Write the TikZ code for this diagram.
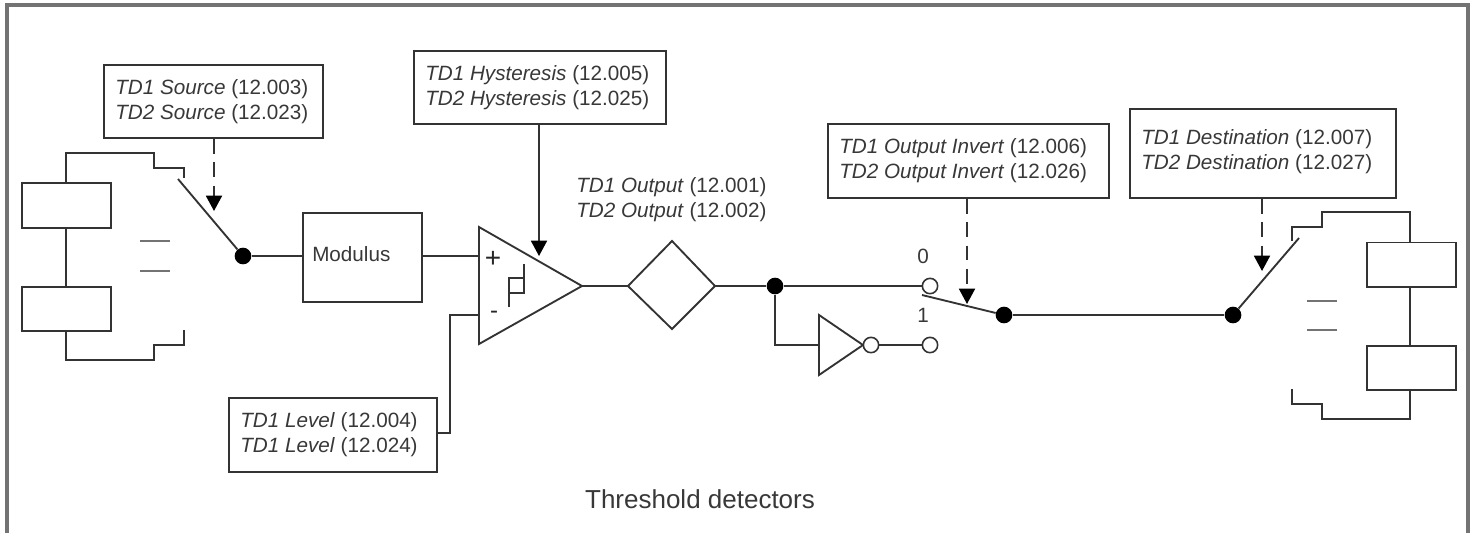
\documentclass[tikz,border=0pt]{standalone}
\usepackage{fontspec}
\setmainfont{Liberation Sans}
\usetikzlibrary{arrows.meta}
\definecolor{wire}{gray}{0.2}
\newcommand{\pl}[2]{\textit{#1} (#2)}
\tikzset{
  x=0.75pt,y=-0.75pt,
  wireline/.style={draw=wire,line width=1.4pt},
  plainbox/.style={draw=wire,line width=1.4pt,fill=white,inner sep=0pt,anchor=north west},
  blackdot/.style={circle,fill=black,minimum size=12.5pt,inner sep=0pt},
  opendot/.style={circle,draw=wire,line width=1.2pt,fill=white,minimum size=11.5pt,inner sep=0pt},
  txt/.style={font=\fontsize{15.5pt}{18.5pt}\selectfont,text=black!78,align=left,inner sep=0pt},
  dasharrow/.style={wireline,dash pattern=on 11pt off 6.5pt,-{Triangle[length=11.5pt,width=12pt,black]}},
  solidarrow/.style={wireline,-{Triangle[length=11.5pt,width=12pt,black]}},
  equalbar/.style={draw=black!55,line width=1.5pt}
}
\newcommand{\tbox}[7]{% name x y w h up(px) text
  \node[plainbox,minimum width=#4*0.75pt,minimum height=#5*0.75pt] (#1) at (#2,#3) {};
  \node[txt,anchor=west] (#1t) at ([xshift=9pt,yshift=#6*0.75pt]#1.west) {#7};
}
\newcommand{\ebox}[5]{% name x y w h
  \node[plainbox,minimum width=#4*0.75pt,minimum height=#5*0.75pt] (#1) at (#2,#3) {};
}
\begin{document}
\begin{tikzpicture}
\useasboundingbox (0,0) rectangle (1476,533);
% frame
\draw[draw=black!55,line width=2.3pt] (7,533) -- (7,5) -- (1468,5) -- (1468,533);

% left bus
\ebox{srcA}{21}{182}{89}{45}
\ebox{srcB}{21}{286}{89}{44}
\coordinate (lt1) at (66,153); \coordinate (lt2) at (154,153); \coordinate (lt3) at (154,168); \coordinate (lt4) at (184,168); \coordinate (lt5) at (184,178);
\coordinate (lb1) at (66,360); \coordinate (lb2) at (154,360); \coordinate (lb3) at (154,345); \coordinate (lb4) at (184,345); \coordinate (lb5) at (184,330);
\draw[wireline] (srcA.north -| lt1) -- (lt1) -- (lt2) -- (lt3) -- (lt4) -- (lt5);
\draw[wireline] (srcA.south -| lt1) -- (srcB.north -| lt1);
\draw[wireline] (srcB.south -| lb1) -- (lb1) -- (lb2) -- (lb3) -- (lb4) -- (lb5);
\coordinate (eqa1) at (140,241); \coordinate (eqa2) at (170,241);
\coordinate (eqb1) at (140,271); \coordinate (eqb2) at (170,271);
\draw[equalbar] (eqa1) -- (eqa2);
\draw[equalbar] (eqb1) -- (eqb2);
\node[blackdot] (d1) at (243,256) {};
\coordinate (sw1) at (178,179);
\draw[wireline] (sw1) -- (d1);

% source label
\tbox{src}{103}{64}{219}{73}{0}{\pl{TD1 Source}{12.003}\\\pl{TD2 Source}{12.023}}
\coordinate (a1) at (214,211);
\draw[dasharrow] (src.south -| a1) -- (a1);

% modulus
\node[plainbox,minimum width=119*0.75pt,minimum height=89*0.75pt] (mod) at (302,212) {};
\node[txt,anchor=west] (modt) at (312,254) {Modulus};
\draw[wireline] (d1) -- (mod.west |- d1);

% comparator
\coordinate (t1) at (479,227); \coordinate (t2) at (479,344); \coordinate (t3) at (582,286);
\draw[wireline,line join=miter] (t1) -- (t2) -- (t3) -- cycle;
\coordinate (inp) at (479,256); \coordinate (inm) at (479,315);
\draw[wireline] (mod.east |- inp) -- (inp);
\node[txt,font=\fontsize{21pt}{21pt}\selectfont,text=black!85] (plus) at (493,259) {+};
\node[txt,font=\fontsize{18pt}{18pt}\selectfont,text=black!85] (minus) at (494,315) {-};
\coordinate (h1) at (524,264); \coordinate (h2) at (524,293); \coordinate (h3) at (509,293);
\coordinate (h4) at (509,278); \coordinate (h5) at (524,278); \coordinate (h6) at (509,307);
\draw[wireline] (h1) -- (h2) -- (h3);
\draw[wireline] (h5) -- (h4) -- (h6);

% hysteresis label
\tbox{hys}{413}{50}{252}{73}{0}{\pl{TD1 Hysteresis}{12.005}\\\pl{TD2 Hysteresis}{12.025}}
\coordinate (a2) at (539,256);
\draw[solidarrow] (hys.south -| a2) -- (a2);

% level label
\tbox{lev}{228}{397}{208}{74}{0}{\pl{TD1 Level}{12.004}\\\pl{TD1 Level}{12.024}}
\coordinate (l1) at (450,433); \coordinate (l2) at (450,315);
\draw[wireline] (lev.east |- l1) -- (l1) -- (l2) -- (inm);

% output text
\node[txt,anchor=west] (out) at (576,199.5) {\pl{TD1 Output}{12.001}\\\pl{TD2 Output}{12.002}};

% diamond
\coordinate (m1) at (628,286); \coordinate (m2) at (672,241); \coordinate (m3) at (715,286); \coordinate (m4) at (672,329);
\draw[wireline] (m1) -- (m2) -- (m3) -- (m4) -- cycle;
\draw[wireline] (t3) -- (m1);
\node[blackdot] (d2) at (775,286) {};
\draw[wireline] (m3) -- (d2);

% output invert switch
\node[opendot] (c0) at (930,286) {};
\node[opendot] (c1) at (930,345) {};
\draw[wireline] (d2) -- (c0);
\coordinate (i1) at (819,315); \coordinate (i2) at (819,375); \coordinate (i3) at (863,345);
\coordinate (i4) at (775,345); \coordinate (i5) at (819,345);
\draw[wireline] (d2) -- (i4) -- (i5);
\draw[wireline] (i1) -- (i2) -- (i3) -- cycle;
\node[opendot] (c2) at (871,345) {};
\draw[wireline] (c2) -- (c1);
\node[txt,anchor=center] (l0) at (923,256) {0};
\node[txt,anchor=center] (l11) at (923,315) {1};
\node[blackdot] (d3) at (1004,315) {};
\coordinate (sw2) at (922,295);
\draw[wireline] (sw2) -- (d3);

% invert label
\tbox{inv}{827}{123}{281}{74}{0}{\pl{TD1 Output Invert}{12.006}\\\pl{TD2 Output Invert}{12.026}}
\coordinate (a3) at (967,304);
\draw[dasharrow] (inv.south -| a3) -- (a3);

% destination
\node[blackdot] (d4) at (1233,315) {};
\draw[wireline] (d3) -- (d4);
\coordinate (sw3) at (1299,238);
\draw[wireline] (d4) -- (sw3);
\tbox{dst}{1129}{108}{266}{89}{1.5}{\pl{TD1 Destination}{12.007}\\\pl{TD2 Destination}{12.027}}
\coordinate (a4) at (1262,271);
\draw[dasharrow] (dst.south -| a4) -- (a4);

% right bus
\ebox{dstA}{1366}{241.5}{89}{44.5}
\ebox{dstB}{1366}{345}{89}{44}
\coordinate (rt1) at (1410,212); \coordinate (rt2) at (1322,212); \coordinate (rt3) at (1322,227); \coordinate (rt4) at (1292,227); \coordinate (rt5) at (1292,241);
\coordinate (rb1) at (1410,419); \coordinate (rb2) at (1322,419); \coordinate (rb3) at (1322,404); \coordinate (rb4) at (1292,404); \coordinate (rb5) at (1292,389);
\draw[wireline] (dstA.north -| rt1) -- (rt1) -- (rt2) -- (rt3) -- (rt4) -- (rt5);
\draw[wireline] (dstA.south -| rt1) -- (dstB.north -| rt1);
\draw[wireline] (dstB.south -| rb1) -- (rb1) -- (rb2) -- (rb3) -- (rb4) -- (rb5);
\coordinate (eqc1) at (1307,301); \coordinate (eqc2) at (1337,301);
\coordinate (eqd1) at (1307,330); \coordinate (eqd2) at (1337,330);
\draw[equalbar] (eqc1) -- (eqc2);
\draw[equalbar] (eqd1) -- (eqd2);

% caption
\node[txt,font=\fontsize{19.5pt}{22pt}\selectfont,anchor=center] (cap) at (700,499) {Threshold detectors};
\end{tikzpicture}
\end{document}
